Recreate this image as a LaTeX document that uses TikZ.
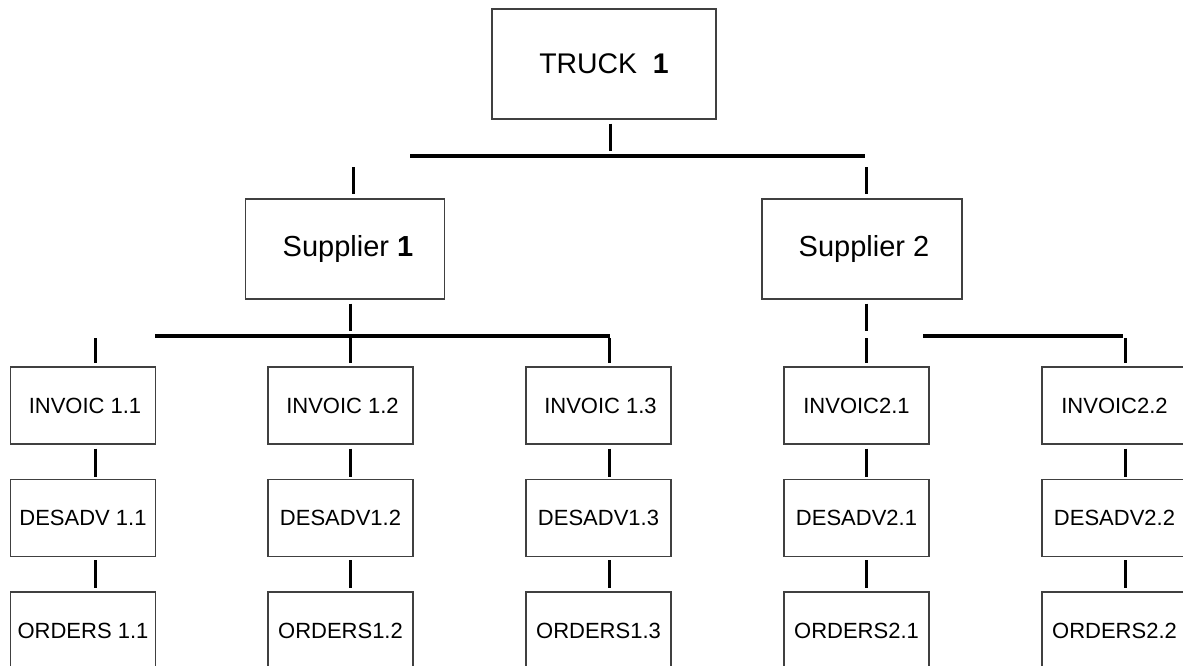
\documentclass[tikz,border=0pt]{standalone}
\usepackage{fontspec}
\setmainfont{Liberation Sans}
\usetikzlibrary{calc}
\begin{document}
\begin{tikzpicture}[x=1pt,y=-1pt,
  box/.style={draw=black!75, line width=1.2pt, rectangle, inner sep=0pt},
  topbox/.style={box, minimum width=224pt, minimum height=110pt, font=\fontsize{28.4}{32}\selectfont},
  supbox/.style={box, minimum width=199pt, minimum height=100pt, font=\fontsize{29}{33}\selectfont},
  docbox/.style={box, minimum width=145pt, minimum height=77pt, font=\fontsize{22}{25}\selectfont},
  tick/.style={line width=3pt, black},
  bar/.style={line width=3.8pt, black}]
\useasboundingbox (0,0) rectangle (1183,666);
\clip (0,0) rectangle (1183,666);
\fill[white] (0,0) rectangle (1183,666);

% top level
\node[topbox] (truck) at (604,64) {TRUCK\ \ \textbf{1}};
\node[supbox] (sup1) at (345,249) {\hspace*{6pt}Supplier \textbf{1}};
\node[supbox, minimum width=200pt] (sup2) at (862,249) {\hspace*{4pt}Supplier 2};

% documents
\node[docbox] (inv1) at (83,405.5) {\hspace*{4pt}INVOIC 1.1};
\node[docbox] (des1) at (83,518) {DESADV 1.1};
\node[docbox] (ord1) at (83,630.5) {ORDERS 1.1};
\node[docbox] (inv2) at (340.5,405.5) {\hspace*{4pt}INVOIC 1.2};
\node[docbox] (des2) at (340.5,518) {DESADV1.2};
\node[docbox] (ord2) at (340.5,630.5) {ORDERS1.2};
\node[docbox] (inv3) at (598.5,405.5) {\hspace*{4pt}INVOIC 1.3};
\node[docbox] (des3) at (598.5,518) {DESADV1.3};
\node[docbox] (ord3) at (598.5,630.5) {ORDERS1.3};
\node[docbox] (inv4) at (856.5,405.5) {INVOIC2.1};
\node[docbox] (des4) at (856.5,518) {DESADV2.1};
\node[docbox] (ord4) at (856.5,630.5) {ORDERS2.1};
\node[docbox] (inv5) at (1114.5,405.5) {INVOIC2.2};
\node[docbox] (des5) at (1114.5,518) {DESADV2.2};
\node[docbox] (ord5) at (1114.5,630.5) {ORDERS2.2};

% bars
\coordinate (barAl) at (410,156);
\coordinate (barAr) at (865,156);
\coordinate (barBl) at (155,336);
\coordinate (barBr) at (610,336);
\coordinate (barCl) at (923,336);
\coordinate (barCr) at (1123,336);
\draw[bar] (barAl) -- (barAr);
\draw[bar] (barBl) -- (barBr);
\draw[bar] (barCl) -- (barCr);

% ticks, truck level
\draw[tick] ($(truck.south)+(6,4)$) -- ++(0,27);
\draw[tick] ($(sup1.north)+(8,-31)$) -- ++(0,27);
\draw[tick] ($(sup2.north)+(4,-31)$) -- ++(0,27);
\draw[tick] ($(sup1.south)+(5,4)$) -- ++(0,27);
\draw[tick] ($(sup2.south)+(4,4)$) -- ++(0,27);

% ticks, document level
\foreach \c/\dx in {1/12,2/9.5,3/10.5,4/9.5,5/10.5}{
  \draw[tick] ($(inv\c.north)+(\dx,-28)$) -- ++(0,25);
  \draw[tick] ($(inv\c.south)+(\dx,4)$) -- ++(0,28);
  \draw[tick] ($(des\c.south)+(\dx,3)$) -- ++(0,28);
}
\end{tikzpicture}
\end{document}
